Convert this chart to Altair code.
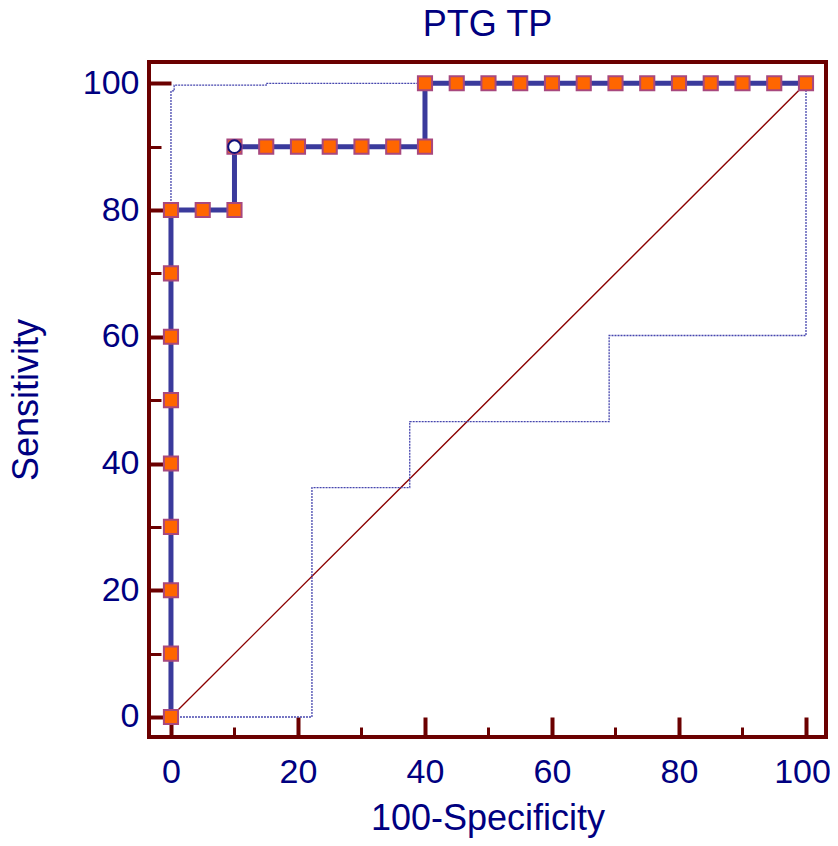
import altair as alt
import pandas as pd

# ROC curve points (100-Specificity, Sensitivity)
roc_x = [0, 0, 0, 0, 0, 0, 0, 0, 0, 5, 10, 10, 15, 20, 25, 30, 35, 40,
         40, 45, 50, 55, 60, 65, 70, 75, 80, 85, 90, 95, 100]
roc_y = [0, 10, 20, 30, 40, 50, 60, 70, 80, 80, 80, 90, 90, 90, 90, 90, 90, 90,
         100, 100, 100, 100, 100, 100, 100, 100, 100, 100, 100, 100, 100]

# Optimal criterion point
opt_x = [10]
opt_y = [90]

# Upper confidence bound
upper_x = [0, 0, 0.5, 0.5, 15, 15, 100]
upper_y = [0, 98.8, 98.8, 99.7, 99.7, 100, 100]

# Lower confidence bound
lower_x = [0, 22.2, 22.2, 37.6, 37.6, 69.0, 69.0, 100, 100]
lower_y = [0, 0, 36.2, 36.2, 46.6, 46.6, 60.2, 60.2, 100]

# Diagonal reference line
diag_x = [0, 100]
diag_y = [0, 100]

x_ticks = list(range(0, 101, 5))
y_ticks = list(range(0, 101, 10))

W, H = 677, 675
FRAME = "#6B0000"
NAVY = "#000080"
FONT = "Liberation Sans"

xscale = alt.Scale(domain=[-3.46, 103.15], nice=False, zero=False)
yscale = alt.Scale(domain=[-3.16, 103.36], nice=False, zero=False)

major = "datum.value % 20 === 0"

xaxis = alt.Axis(
    values=x_ticks, title="100-Specificity", domain=False, ticks=False, tickSize=0,
    grid=True, gridColor=FRAME, gridOpacity=1,
    gridWidth={"condition": {"test": major, "value": 4}, "value": 3},
    gridDash={"condition": {"test": major, "value": [0, H - 20, 20, 3000]},
              "value": [0, H - 10, 10, 3000]},
    labelExpr=f"{major} ? datum.label : ''", labelOverlap=False, labelFlush=False,
    labelOffset={"condition": {"test": "datum.value === 100", "value": -4}, "value": 0},
    labelFont=FONT, labelFontSize=34, labelColor=NAVY, labelPadding=18,
    titleFont=FONT, titleFontSize=36, titleFontWeight="normal", titleColor=NAVY,
    titlePadding=12,
)
yaxis = alt.Axis(
    values=y_ticks, title="Sensitivity", domain=False, ticks=False, tickSize=0,
    grid=True, gridColor=FRAME, gridOpacity=1,
    gridWidth={"condition": {"test": major, "value": 4}, "value": 3},
    gridDash={"condition": {"test": major, "value": [22, 3000]},
              "value": [12, 3000]},
    labelExpr=f"{major} ? datum.label : ''", labelOverlap=False, labelFlush=False,
    labelFont=FONT, labelFontSize=34, labelColor=NAVY, labelPadding=10,
    titleFont=FONT, titleFontSize=36, titleFontWeight="normal", titleColor=NAVY,
    titlePadding=37,
)

roc = pd.DataFrame({"x": roc_x, "y": roc_y, "o": range(len(roc_x))})
upper = pd.DataFrame({"x": upper_x, "y": upper_y, "o": range(len(upper_x))})
lower = pd.DataFrame({"x": lower_x, "y": lower_y, "o": range(len(lower_x))})
diag = pd.DataFrame({"x": diag_x, "y": diag_y, "o": range(len(diag_x))})
opt = pd.DataFrame({"x": opt_x, "y": opt_y})

diag_layer = alt.Chart(diag).mark_line(color="#8B0000", strokeWidth=1.4).encode(
    x=alt.X("x:Q", scale=xscale, axis=xaxis),
    y=alt.Y("y:Q", scale=yscale, axis=yaxis),
    order="o:Q",
)
upper_layer = alt.Chart(upper).mark_line(color="#4646AE", strokeWidth=1.3, strokeDash=[2, 1]).encode(
    x=alt.X("x:Q", scale=xscale), y=alt.Y("y:Q", scale=yscale), order="o:Q")
lower_layer = alt.Chart(lower).mark_line(color="#4646AE", strokeWidth=1.3, strokeDash=[2, 1]).encode(
    x=alt.X("x:Q", scale=xscale), y=alt.Y("y:Q", scale=yscale), order="o:Q")
roc_line = alt.Chart(roc).mark_line(color="#3A3A9C", strokeWidth=5).encode(
    x=alt.X("x:Q", scale=xscale), y=alt.Y("y:Q", scale=yscale), order="o:Q")
roc_pts = alt.Chart(roc).mark_point(
    shape="square", filled=True, fill="#FF6600", stroke="#A8487E", strokeWidth=2,
    size=200, opacity=1,
).encode(x=alt.X("x:Q", scale=xscale), y=alt.Y("y:Q", scale=yscale))
opt_pt = alt.Chart(opt).mark_point(
    shape="circle", filled=True, fill="white", stroke="#10107A", strokeWidth=2,
    size=160, opacity=1,
).encode(x=alt.X("x:Q", scale=xscale), y=alt.Y("y:Q", scale=yscale))

chart = alt.layer(
    diag_layer, upper_layer, lower_layer, roc_line, roc_pts, opt_pt
).properties(
    width=W, height=H,
    autosize=alt.AutoSizeParams(type="none"),
    padding={"left": 141, "top": 54, "right": 4, "bottom": 101},
    title=alt.TitleParams("PTG TP", font=FONT, fontSize=36, fontWeight="normal",
                          color=NAVY, offset=18, anchor="middle"),
).configure(background="white").configure_view(stroke=FRAME, strokeWidth=4)

chart.save("out.html", embed_options={"renderer": "svg", "actions": False})
